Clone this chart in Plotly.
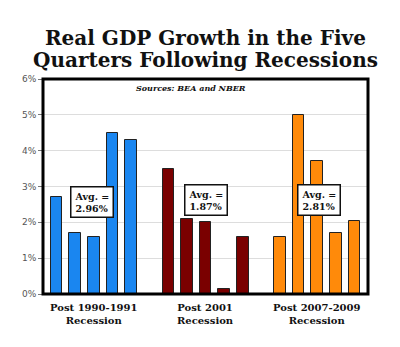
import plotly.graph_objects as go

# Real GDP growth (annualized, %) in the five quarters after each recession
groups = ["Post 1990-1991<br>Recession", "Post 2001<br>Recession", "Post 2007-2009<br>Recession"]
growth_1991 = [2.7, 1.7, 1.6, 4.5, 4.3]
growth_2001 = [3.5, 2.1, 2.0, 0.15, 1.6]
growth_2009 = [1.6, 5.0, 3.7, 1.7, 2.05]
avg_labels = ["Avg. =<br>2.96%", "Avg. =<br>1.87%", "Avg. =<br>2.81%"]
title_lines = ["Real GDP Growth in the Five", "Quarters Following Recessions"]
y_ticks = [0, 1, 2, 3, 4, 5, 6]
y_tick_text = ["0%", "1%", "2%", "3%", "4%", "5%", "6%"]

colors = ["#1a86f0", "#7a0000", "#ff8a0a"]
series = [growth_1991, growth_2001, growth_2009]

W, H = 400, 347
M_L, M_R, M_T, M_B = 43, 32, 79, 53
plot_h = H - M_T - M_B


def py(pix):
    """Convert a pixel row (from the top of the page) to paper y."""
    return (H - M_B - pix) / plot_h


fig = go.Figure()
slot = 0
centers = []
for vals, col in zip(series, colors):
    xs = list(range(slot, slot + len(vals)))
    centers.append(sum(xs) / len(xs))
    fig.add_trace(go.Bar(
        x=xs, y=vals, width=0.62,
        marker=dict(color=col, line=dict(color="#222222", width=1)),
        showlegend=False,
    ))
    slot += len(vals) + 1

serif = "DejaVu Serif"

# two-line title, placed line by line for tighter leading
for txt, pix in zip(title_lines, [38, 60]):
    fig.add_annotation(
        x=0.5, xref="paper", xanchor="center", y=py(pix), yref="paper",
        yanchor="middle", text="<b>" + txt + "</b>", showarrow=False,
        font=dict(family=serif, size=20, color="#111111"),
    )

# average boxes
avg_pos = [(centers[0] - 0.12, 2.56), (centers[1] + 0.01, 2.62), (centers[2] + 0.09, 2.61)]
for (ax, ay), txt in zip(avg_pos, avg_labels):
    fig.add_annotation(
        x=ax, y=ay, xref="x", yref="y", text="<b>" + txt + "</b>",
        showarrow=False, align="left",
        font=dict(family=serif, size=9.5, color="#111111"),
        bgcolor="white", bordercolor="#111111", borderwidth=1.5, borderpad=3,
    )

# group labels under the axis
for cx, g in zip(centers, groups):
    fig.add_annotation(
        x=cx, y=0, xref="x", yref="paper", yanchor="top", yshift=-6,
        text="<b>" + g + "</b>", showarrow=False,
        font=dict(family=serif, size=10, color="#111111"),
    )

fig.add_annotation(
    x=0.455, y=py(87.5), xref="paper", yref="paper", yanchor="middle",
    text="<b><i>Sources: BEA and NBER</i></b>", showarrow=False,
    font=dict(family=serif, size=8, color="#111111"),
)

# heavy frame around the plotting area
fig.add_shape(type="rect", xref="paper", yref="paper", x0=0, y0=0, x1=1, y1=1,
              line=dict(color="#000000", width=3), layer="above")

fig.update_layout(
    width=W, height=H,
    margin=dict(l=M_L, r=M_R, t=M_T, b=M_B),
    paper_bgcolor="white", plot_bgcolor="white",
    bargap=0,
    xaxis=dict(range=[-0.73, 16.73], showticklabels=False, showgrid=False,
               zeroline=False, ticks=""),
    yaxis=dict(range=[0, 6], tickvals=y_ticks, ticktext=y_tick_text,
               showgrid=True, gridcolor="#dddddd", gridwidth=1, zeroline=False,
               ticks="outside", ticklen=4, tickcolor="#777777",
               tickfont=dict(family="DejaVu Sans", size=9, color="#555555")),
)

fig.write_html("out.html")
